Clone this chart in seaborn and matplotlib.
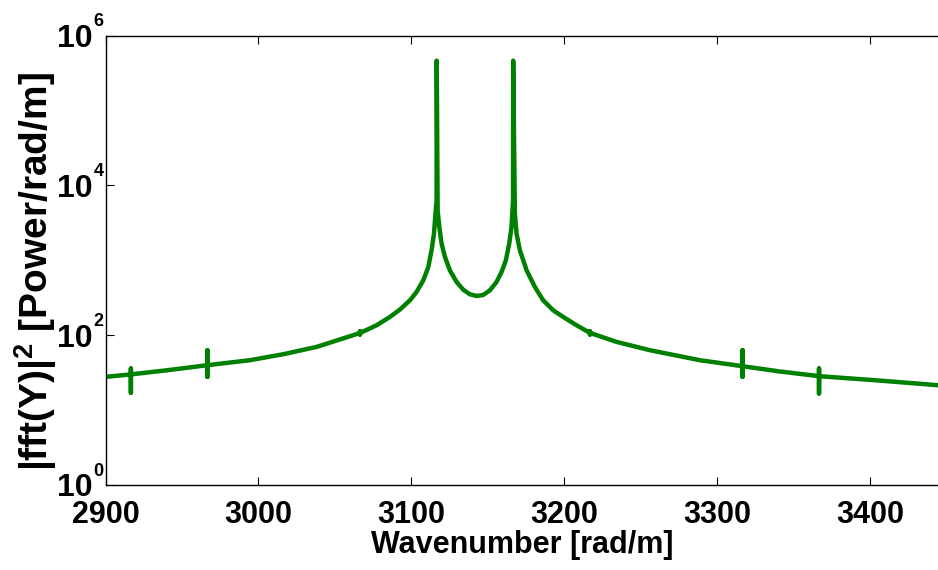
import matplotlib
matplotlib.use("Agg")
import matplotlib.pyplot as plt
import matplotlib.transforms as mtransforms
import seaborn as sns
import pandas as pd

# ---- data ----
wavenumber = [
    2900.0, 2916.6, 2916.6, 2916.6, 2916.6, 2940.0,
    2966.6, 2966.6, 2966.6, 2966.6, 2994.5, 3016.3, 3038.1, 3059.9,
    3066.4, 3066.4, 3066.4, 3066.4, 3077.3, 3086.0, 3092.5, 3099.1,
    3103.4, 3107.8, 3111.1, 3113.2, 3114.8, 3115.6, 3116.5, 3116.6,
    3117.2, 3118.3, 3119.8, 3122.0, 3125.2, 3129.6, 3133.9, 3138.3,
    3142.7, 3147.0, 3151.4, 3155.7, 3159.0, 3161.8, 3164.0, 3165.5,
    3166.5, 3166.6, 3167.7, 3168.8, 3171.0, 3175.4, 3180.8, 3186.2,
    3192.8, 3199.3, 3208.0,
    3216.8, 3216.8, 3216.8, 3216.8, 3234.2, 3256.0, 3288.7,
    3316.6, 3316.6, 3316.6, 3316.6, 3340.0,
    3366.6, 3366.6, 3366.6, 3366.6, 3404.0, 3444.4,
]
power = [
    27.8, 30.0, 36.0, 17.0, 30.0, 34.0,
    39.8, 63.0, 27.8, 39.8, 46.4, 55.8, 69.9, 97.0,
    107.0, 113.0, 102.0, 107.0, 136.0, 175.6, 220.0, 293.0,
    378.0, 541.0, 815.0, 1360.0, 2268.0, 3783.0, 6310.0, 464000.0,
    4642.0, 2783.0, 1668.0, 1108.0, 735.0, 514.0, 406.0, 352.0,
    334.5, 345.0, 398.0, 514.0, 699.0, 1000.0, 1668.0, 2783.0,
    6310.0, 464000.0, 4190.0, 2268.0, 1360.0, 735.0, 441.0, 293.0,
    215.0, 175.6, 136.0,
    107.4, 113.0, 102.0, 107.4, 81.5, 63.1, 46.4,
    38.6, 63.0, 27.8, 38.6, 33.0,
    28.4, 36.0, 16.7, 28.4, 25.0, 21.5,
]
ytick_values = [1, 1e2, 1e4, 1e6]
ytick_base = ["10", "10", "10", "10"]
ytick_exponents = ["0", "2", "4", "6"]
xtick_values = [2900, 3000, 3100, 3200, 3300, 3400]
xtick_labels = ["2900", "3000", "3100", "3200", "3300", "3400"]

df = pd.DataFrame({"k": wavenumber, "p": power})

sns.set_style("ticks")
plt.rcParams["font.family"] = ["Liberation Sans", "DejaVu Sans"]
plt.rcParams["font.weight"] = "bold"
plt.rcParams["mathtext.default"] = "regular"
for key in ["text.color", "axes.labelcolor", "xtick.color", "ytick.color",
            "axes.edgecolor"]:
    plt.rcParams[key] = "black"

fig = plt.figure(figsize=(9.38, 5.70), dpi=100)
ax = fig.add_axes([105.5 / 938, 85 / 570, (938 - 105.5) / 938, (485 - 35.7) / 570])

sns.lineplot(data=df, x="k", y="p", sort=False, estimator=None,
             color="#008000", linewidth=3.2, ax=ax)

ax.set_yscale("log")
ax.set_xlim(2900, 3444.4)
ax.set_ylim(1, 1e6)
ax.minorticks_off()

ax.set_xticks(xtick_values)
ax.set_xticklabels(xtick_labels, fontsize=22, fontweight="bold")
ax.set_yticks(ytick_values)
ax.set_yticklabels(ytick_base, fontsize=23, fontweight="bold")
ax.tick_params(axis="both", direction="in", length=6, width=0.8,
               top=True, right=False, color="black")
ax.tick_params(axis="x", pad=11)
ax.tick_params(axis="y", pad=9)

for s in ["left", "bottom", "top"]:
    ax.spines[s].set_visible(True)
    ax.spines[s].set_linewidth(1.0)
    ax.spines[s].set_color("black")
ax.spines["right"].set_visible(False)

trans = mtransforms.offset_copy(ax.get_yaxis_transform(), fig=fig,
                                x=-12, y=14, units="dots")
for v, e in zip(ytick_values, ytick_exponents):
    ax.text(0, v, e, transform=trans, ha="left", va="center",
            fontsize=13, fontweight="bold", clip_on=False)

ax.set_xlabel("Wavenumber [rad/m]", fontsize=22, fontweight="bold", labelpad=0)
ax.set_ylabel(r"|fft(Y)|$^{2}$ [Power/rad/m]", fontsize=28, fontweight="bold")
ax.yaxis.set_label_coords(-0.056, 0.474)

fig.savefig("out.png", dpi=100, facecolor="white")
